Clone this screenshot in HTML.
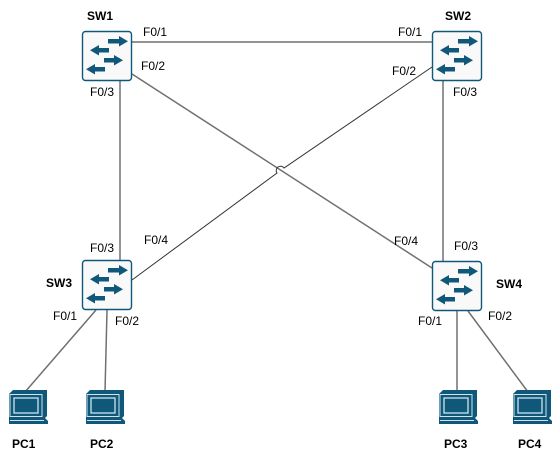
<!DOCTYPE html>
<html><head><style>body{margin:0;background:#fff}svg{display:block}text{font-family:"Liberation Sans",Arial,sans-serif;font-size:12px;fill:#000}</style></head>
<body>
<svg width="558" height="460" viewBox="0 0 558 460" xmlns="http://www.w3.org/2000/svg">
<defs>
<g id="sw">
<rect x="0.5" y="0.5" width="49" height="49" rx="3" fill="#f9f9f9" stroke="#10587a" stroke-width="1.4"/>
<g fill="#10587a">
<rect x="26" y="8" width="12" height="4.5"/><polygon points="37,5 46,10.25 37,15.5"/>
<rect x="17" y="17" width="10" height="4.5"/><polygon points="17,14 8,19.25 17,24.5"/>
<rect x="22" y="27" width="11" height="4.5"/><polygon points="32,24 41,29.25 32,34.5"/>
<rect x="13" y="36" width="10" height="4.5"/><polygon points="13,33 4,38.25 13,43.5"/>
</g>
</g>
<g id="pc">
<polygon points="0,4 4,0 38,0 38,26 34,30 0,30" fill="#10587a"/>
<rect x="1" y="4.5" width="32" height="22" fill="#10587a" stroke="#cfe3ee" stroke-width="1"/>
<rect x="5" y="8" width="24" height="15" fill="#10587a" stroke="#cfe3ee" stroke-width="1.3"/>
<polygon points="0,28 36,28 39,31 39,34 0,34" fill="#10587a"/>
<line x1="1" y1="30.5" x2="35" y2="30.5" stroke="#cfe3ee" stroke-width="1"/>
</g>
</defs>
<g stroke="#707070" stroke-width="1.5" fill="none">
<line x1="132" y1="42" x2="432" y2="42"/>
<line x1="120" y1="81" x2="120" y2="260"/>
<line x1="443" y1="81" x2="443" y2="261"/>
<line x1="132" y1="74" x2="432" y2="268"/>
<line x1="96" y1="310" x2="25" y2="392"/>
<line x1="107" y1="310" x2="105" y2="392"/>
<line x1="457" y1="311" x2="457" y2="392"/>
<line x1="468" y1="311" x2="528" y2="392"/>
</g>
<path d="M432,67 L284,168 A4,4 0 0 0 277,173 L132,280" stroke="#333" stroke-width="1" fill="none"/>
<use href="#sw" x="82" y="31"/>
<use href="#sw" x="432" y="31"/>
<use href="#sw" x="82" y="260"/>
<use href="#sw" x="432" y="261"/>
<use href="#pc" x="9" y="390"/>
<use href="#pc" x="86" y="390"/>
<use href="#pc" x="439" y="390"/>
<use href="#pc" x="513" y="390"/>
<g>
<text x="87" y="20" style="font-weight:bold">SW1</text>
<text x="445" y="20" style="font-weight:bold">SW2</text>
<text x="46" y="287" style="font-weight:bold">SW3</text>
<text x="496" y="288" style="font-weight:bold">SW4</text>
<text x="12" y="448" style="font-weight:bold">PC1</text>
<text x="90" y="448" style="font-weight:bold">PC2</text>
<text x="444" y="448" style="font-weight:bold">PC3</text>
<text x="518" y="448" style="font-weight:bold">PC4</text>
</g>
<text x="143" y="36">F0/1</text>
<text x="141" y="70">F0/2</text>
<text x="90" y="96">F0/3</text>
<text x="398" y="36">F0/1</text>
<text x="392" y="75">F0/2</text>
<text x="453" y="96">F0/3</text>
<text x="144" y="244">F0/4</text>
<text x="90" y="252">F0/3</text>
<text x="53" y="320">F0/1</text>
<text x="115" y="325">F0/2</text>
<text x="394" y="245">F0/4</text>
<text x="454" y="250">F0/3</text>
<text x="418" y="325">F0/1</text>
<text x="488" y="320">F0/2</text>
</svg>
</body></html>
